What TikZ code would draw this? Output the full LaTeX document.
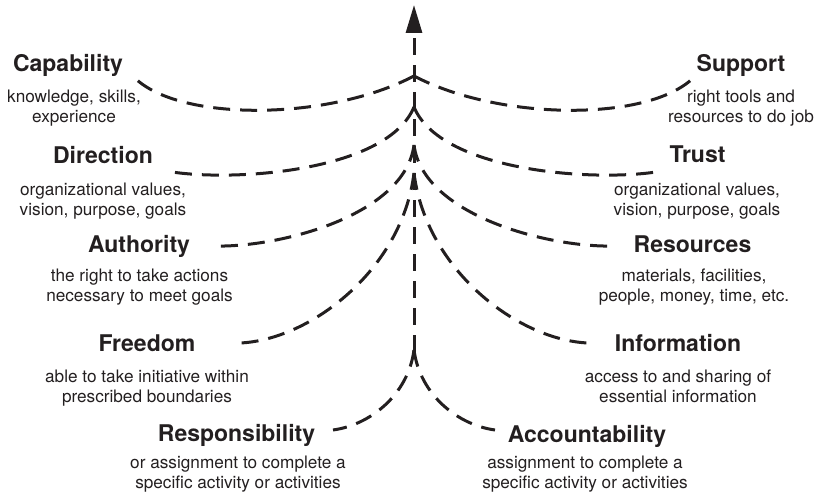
\documentclass[tikz,border=0pt]{standalone}
\usepackage{fontspec}
\setmainfont{TeX Gyre Heros}
\usetikzlibrary{arrows.meta}
\definecolor{ink}{RGB}{35,31,32}
\begin{document}
\begin{tikzpicture}[x=1pt,y=-1pt,
  dashline/.style={draw=ink, line width=3pt, dash pattern=on 17pt off 10pt},
  ttl/.style={font=\fontsize{23}{27}\selectfont\bfseries, text=ink, inner sep=0pt, anchor=base},
  body/.style={font=\fontsize{17.2}{20}\selectfont, text=ink, inner sep=0pt, anchor=north, align=center}]
\useasboundingbox (0,0) rectangle (820,497);

% convergence points on the central axis
\coordinate (base) at (414,352);
\coordinate (top) at (414,5);
\coordinate (c1) at (414,76);
\coordinate (c2) at (414,107);
\coordinate (c3) at (414,145);
\coordinate (c4) at (414,173);
\coordinate (c5) at (414,350);

% outer ends of the curves
\coordinate (l1) at (137,80);  \coordinate (r1) at (691,80);
\coordinate (l2) at (172,172); \coordinate (r2) at (656,172);
\coordinate (l3) at (213,246); \coordinate (r3) at (615,246);
\coordinate (l4) at (240,343); \coordinate (r4) at (588,343);
\coordinate (l5) at (333,430); \coordinate (r5) at (495,430);

% labels
\node[ttl] (capT) at (68,72) {Capability};
\node[body] (capB) at (74,90.2) {knowledge, skills,\\experience};
\node[ttl] (supT) at (741,72) {Support};
\node[body] (supB) at (741,90.2) {right tools and\\resources to do job};
\node[ttl] (dirT) at (103,164) {Direction};
\node[body] (dirB) at (103,182.7) {organizational values,\\vision, purpose, goals};
\node[ttl] (truT) at (697.5,163) {Trust};
\node[body] (truB) at (697,182.5) {organizational values,\\vision, purpose, goals};
\node[ttl] (autT) at (139,253) {Authority};
\node[body] (autB) at (139.5,268.7) {the right to take actions\\necessary to meet goals};
\node[ttl] (resT) at (692.5,253) {Resources};
\node[body] (resB) at (694,268.7) {materials, facilities,\\people, money, time, etc.};
\node[ttl] (freT) at (147,352) {Freedom};
\node[body] (freB) at (147,370) {able to take initiative within\\prescribed boundaries};
\node[ttl] (infT) at (678,352) {Information};
\node[body] (infB) at (678,370) {access to and sharing of\\essential information};
\node[ttl] (rspT) at (236.5,441) {Responsibility};
\node[body] (rspB) at (238,455.7) {or assignment to complete a\\specific activity or activities};
\node[ttl] (accT) at (587,442) {Accountability};
\node[body] (accB) at (585,455.7) {assignment to complete a\\specific activity or activities};

% central arrow
\draw[dashline, -{Triangle[length=28pt, width=16pt]}] (base) -- (top);

% curves
\draw[dashline] (c1) .. controls (330,120) and (185,122) .. (l1);
\draw[dashline] (c1) .. controls (498,120) and (643,122) .. (r1);
\draw[dashline] (c2) .. controls (388,170) and (240,182) .. (l2);
\draw[dashline] (c2) .. controls (440,170) and (588,182) .. (r2);
\draw[dashline] (c3) .. controls (405,215) and (280,248) .. (l3);
\draw[dashline] (c3) .. controls (423,215) and (548,248) .. (r3);
\draw[dashline] (c4) .. controls (402,270) and (310,340) .. (l4);
\draw[dashline] (c4) .. controls (426,270) and (518,340) .. (r4);
\draw[dashline] (c5) .. controls (408,395) and (370,425) .. (l5);
\draw[dashline] (c5) .. controls (420,395) and (458,425) .. (r5);
\end{tikzpicture}
\end{document}
